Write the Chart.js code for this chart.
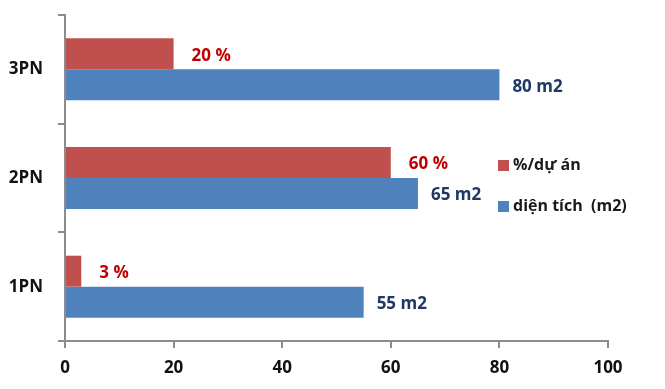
<!DOCTYPE html>
<html>
<head>
<meta charset="utf-8">
<script src="https://cdn.jsdelivr.net/npm/chart.js@4.4.0/dist/chart.umd.min.js"></script>
<style>
  html, body { margin: 0; padding: 0; background: #fff; }
  #wrap { width: 665px; height: 389px; }
</style>
</head>
<body>
<div id="wrap"><canvas id="myChart" width="665" height="389"></canvas></div>
<script>
const categories = ['3PN', '2PN', '1PN'];
const percentValues = [20, 60, 3];
const areaValues = [80, 65, 55];
const percentLabels = ['20 %', '60 %', '3 %'];
const areaLabels = ['80 m2', '65 m2', '55 m2'];
const xTicks = [0, 20, 40, 60, 80, 100];

const fontFamily = '"Open Sans", Lato, sans-serif';

// value labels next to each bar end
const barLabels = {
    id: 'barLabels',
    afterDatasetsDraw(chart) {
        const ctx = chart.ctx;
        ctx.save();
        ctx.font = 'bold 17px ' + fontFamily;
        ctx.textBaseline = 'middle';
        ctx.textAlign = 'left';
        chart.data.datasets.forEach((ds, i) => {
            const meta = chart.getDatasetMeta(i);
            meta.data.forEach((bar, j) => {
                ctx.fillStyle = ds.labelColor;
                ctx.fillText(ds.valueLabels[j], bar.x + ds.labelGap, bar.y + 2);
            });
        });
        ctx.restore();
    }
};

// legend sits inside the plot on the right
const sideLegend = {
    id: 'sideLegend',
    afterDraw(chart) {
        const ctx = chart.ctx;
        ctx.save();
        ctx.font = 'bold 16px ' + fontFamily;
        ctx.textBaseline = 'middle';
        chart.data.datasets.forEach((ds, i) => {
            const y = 165 + i * 41;
            ctx.fillStyle = ds.backgroundColor;
            ctx.fillRect(498, y - 5, 11, 11);
            ctx.fillStyle = '#1a1a1a';
            ctx.fillText(ds.label, 513, y);
        });
        ctx.restore();
    }
};

const ctx = document.getElementById('myChart').getContext('2d');
const myChart = new Chart(ctx, {
    type: 'bar',
    data: {
        labels: categories,
        datasets: [
            {
                label: '%/dự án',
                data: percentValues,
                valueLabels: percentLabels,
                labelColor: '#c00000',
                labelGap: 18,
                backgroundColor: '#c0504d',
                barPercentage: 1,
                categoryPercentage: 0.57,
            },
            {
                label: 'diện tích  (m2)',
                data: areaValues,
                valueLabels: areaLabels,
                labelColor: '#1f3864',
                labelGap: 13,
                backgroundColor: '#4f81bd',
                barPercentage: 1,
                categoryPercentage: 0.57,
            },
        ]
    },
    options: {
        indexAxis: 'y',
        responsive: false,
        animation: false,
        layout: {
            padding: { top: 15, right: 57, left: 0, bottom: 0 }
        },
        plugins: {
            legend: { display: false },
            tooltip: { enabled: false }
        },
        scales: {
            x: {
                min: 0,
                max: 100,
                afterBuildTicks(scale) {
                    scale.ticks = xTicks.map(v => ({ value: v }));
                },
                afterFit(scale) { scale.height = 48; },
                border: { color: '#8c8c8c', width: 2 },
                grid: {
                    drawOnChartArea: false,
                    tickLength: 7,
                    color: '#8c8c8c',
                    lineWidth: 2
                },
                ticks: {
                    color: '#111',
                    padding: 10,
                    font: { family: fontFamily, size: 17, weight: 'bold' }
                }
            },
            y: {
                afterFit(scale) {
                    scale.width = 65;
                    scale.paddingTop = 0;
                    scale.paddingBottom = 0;
                },
                border: { color: '#8c8c8c', width: 2 },
                grid: {
                    offset: true,
                    drawOnChartArea: false,
                    tickLength: 7,
                    color: '#8c8c8c',
                    lineWidth: 2
                },
                ticks: {
                    color: '#111',
                    padding: 15,
                    font: { family: fontFamily, size: 17, weight: 'bold' }
                }
            }
        }
    },
    plugins: [barLabels, sideLegend]
});
</script>
</body>
</html>
